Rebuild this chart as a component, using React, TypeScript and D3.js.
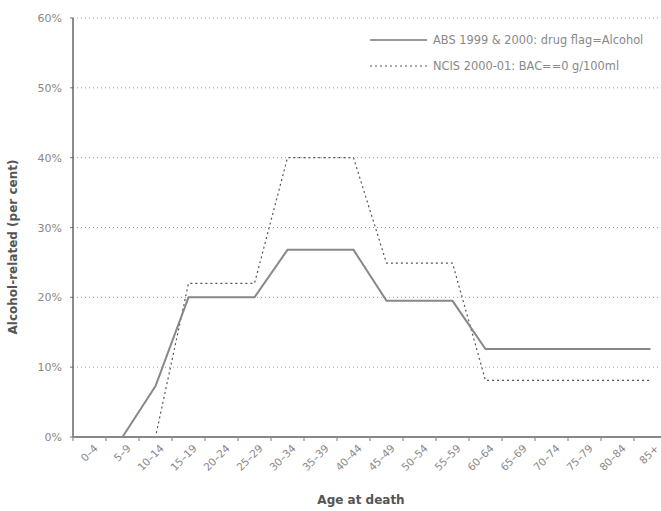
import React from "react";
import * as d3 from "d3";

const categories = ["0–4","5–9","10–14","15–19","20–24","25–29","30–34","35–39","40–44","45–49","50–54","55–59","60–64","65–69","70–74","75–79","80–84","85+"];
const absValues: (number | null)[] = [null, 0, 7.3, 20, 20, 20, 26.8, 26.8, 26.8, 19.5, 19.5, 19.5, 12.6, 12.6, 12.6, 12.6, 12.6, 12.6];
const ncisValues: (number | null)[] = [0, 0, 0, 22, 22, 22, 40, 40, 40, 24.9, 24.9, 24.9, 8.1, 8.1, 8.1, 8.1, 8.1, 8.1];
const yTicks = [0, 10, 20, 30, 40, 50, 60];
const seriesNames = ["ABS 1999 & 2000: drug flag=Alcohol", "NCIS 2000-01: BAC==0 g/100ml"];

export default function App() {
  const W = 661, H = 511;
  const left = 73, right = 667, top = 18, bottom = 437;
  const x = d3.scaleBand().domain(categories).range([left, right]).padding(0);
  const y = d3.scaleLinear().domain([0, 60]).range([bottom, top]);
  const cx = (c: string) => (x(c) as number) + x.bandwidth() / 2;
  const line = d3.line<[string, number | null]>()
    .defined(d => d[1] !== null)
    .x(d => cx(d[0]))
    .y(d => y(d[1] as number));
  const absPath = line(categories.map((c, i) => [c, absValues[i]]));
  const ncisPath = line(categories.map((c, i) => [c, ncisValues[i]]));
  const font = "'DejaVu Sans', Verdana, sans-serif";
  return (
    <svg width={W} height={H} style={{ position: "absolute", left: 0, top: 0, background: "#fff" }} fontFamily={font}>
      {yTicks.filter(t => t > 0).map(t => (
        <line key={"g" + t} x1={left} x2={W} y1={y(t)} y2={y(t)} stroke="#999" strokeWidth={1} strokeDasharray="1,3" />
      ))}
      {yTicks.map(t => (
        <g key={"yt" + t}>
          <line x1={left - 3} x2={left} y1={y(t)} y2={y(t)} stroke="#777" />
          <text x={62} y={y(t) + 4} fontSize={11} fill="#888" textAnchor="end">{t + "%"}</text>
        </g>
      ))}
      {d3.range(categories.length + 1).map(i => {
        const xx = left + i * x.bandwidth();
        return <line key={"xt" + i} x1={xx} x2={xx} y1={bottom} y2={bottom + 4} stroke="#777" />;
      })}
      {categories.map(c => (
        <text key={"xl" + c} transform={`translate(${cx(c) + 9},${bottom + 12}) rotate(-45)`} fontSize={10.5} fill="#888" textAnchor="end">{c}</text>
      ))}
      <path d={ncisPath || ""} fill="none" stroke="#555" strokeWidth={1.2} strokeDasharray="2,3" />
      <path d={absPath || ""} fill="none" stroke="#888" strokeWidth={2} />
      <line x1={left} x2={left} y1={top} y2={bottom} stroke="#666" strokeWidth={1.5} />
      <line x1={left} x2={W} y1={bottom} y2={bottom} stroke="#888" strokeWidth={2} />
      <line x1={370} x2={427} y1={40} y2={40} stroke="#999" strokeWidth={2} />
      <text x={433} y={44} fontSize={11.4} fill="#888">{seriesNames[0]}</text>
      <line x1={370} x2={427} y1={66} y2={66} stroke="#555" strokeWidth={1.2} strokeDasharray="2,3" />
      <text x={433} y={70} fontSize={11.4} fill="#888">{seriesNames[1]}</text>
      <text transform={`translate(17,247) rotate(-90)`} fontSize={12} fontWeight="bold" fill="#555" textAnchor="middle">Alcohol-related (per cent)</text>
      <text x={361} y={504} fontSize={12} fontWeight="bold" fill="#555" textAnchor="middle">Age at death</text>
    </svg>
  );
}
